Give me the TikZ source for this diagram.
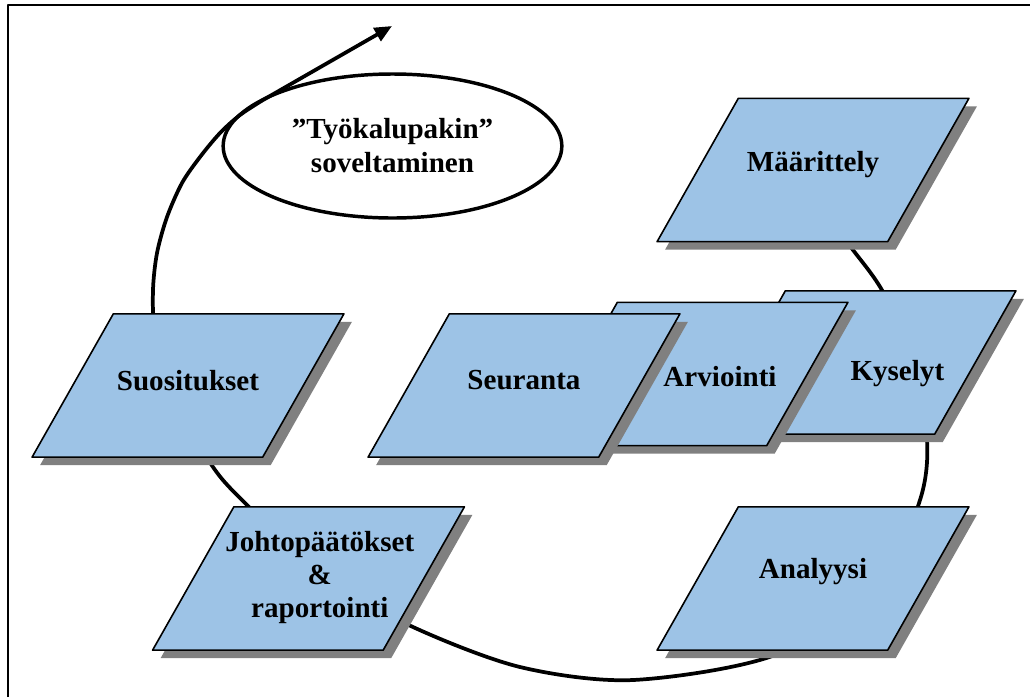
\documentclass[tikz,border=0pt]{standalone}
\usepackage{fontspec}
\setmainfont{Liberation Serif}
\usetikzlibrary{shapes.geometric,shadows,arrows.meta}
\definecolor{platefill}{HTML}{9DC3E6}
\definecolor{shadowgray}{HTML}{808080}
\tikzset{
  plate/.style={trapezium, trapezium left angle=61.45, trapezium right angle=118.55,
    trapezium stretches=true, minimum width=234pt, minimum height=107.5pt,
    draw=black, line width=1.2pt, fill=platefill,
    drop shadow={shadow xshift=6pt, shadow yshift=-6pt, fill=shadowgray, opacity=1}},
  tag/.style={font=\bfseries\fontsize{21.8}{25}\selectfont, align=center, inner sep=0pt},
  oval/.style={ellipse, draw=black, line width=2.6pt, fill=white, minimum width=254pt,
    minimum height=108pt, inner sep=0pt, align=center,
    font=\bfseries\fontsize{21.8}{25.5}\selectfont},
  loopline/.style={line width=2.8pt, -{Triangle[length=13pt,width=11pt]}}
}
\begin{document}
\begin{tikzpicture}[line cap=round,line join=round,x=0.75pt,y=-0.75pt]
	\useasboundingbox (0,0) rectangle (1030,697);
	\draw[line width=1pt,line cap=butt] (8,697) |- (1030,5);
	% ellipse
	\node[oval] (tool) at (392.5,146) {”Työkalupakin”\\soveltaminen};
	% the cycle
	\coordinate (tip) at (392,26);
	\draw[loopline] plot[smooth] coordinates {(825,215) (853,250) (883,292) (912,360) (927,440) (920,500) (880,585) (775,655) (633,680) (520,667) (413,627) (320,575) (247,505) (213,467) (172,395) (155,330) (153,290) (157,253) (167,217) (182,183) (200,157) (220,133) (240,115) (263,100)} -- (tip);
	% steps
	\node[plate] (maar) at (813,170) {};
	\node[tag] (maar-t) at ([yshift=3.75pt]maar.center) {Määrittely};
	\node[plate] (kys) at (860,362.5) {};
	\node[tag] (kys-t) at ([xshift=28pt,yshift=-8.5pt]kys.center) {Kyselyt};
	\node[plate] (arv) at (692,374) {};
	\node[tag] (arv-t) at ([xshift=21pt,yshift=-2pt]arv.center) {Arviointi};
	\node[plate] (seur) at (524,385.5) {};
	\node[tag] (seur-t) at ([yshift=4pt]seur.center) {Seuranta};
	\node[plate] (suos) at (188,385.5) {};
	\node[tag] (suos-t) at ([yshift=4pt]suos.center) {Suositukset};
	\node[plate] (joht) at (308.5,578.5) {};
	\node[tag] (joht-t) at ([xshift=8.5pt,yshift=0.75pt]joht.center) {Johtopäätökset\\\&\\raportointi};
	\node[plate] (anal) at (813,578.5) {};
	\node[tag] (anal-t) at ([yshift=5pt]anal.center) {Analyysi};
\end{tikzpicture}
\end{document}
